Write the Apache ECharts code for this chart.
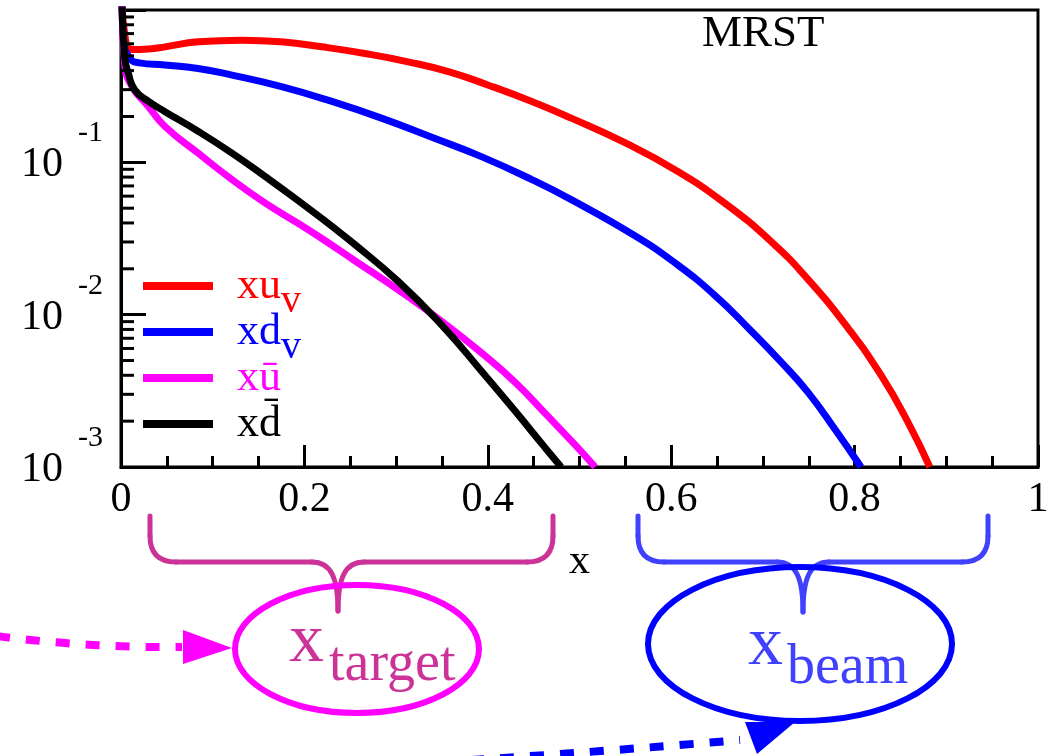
<!DOCTYPE html>
<html>
<head>
<meta charset="utf-8">
<script src="https://cdn.jsdelivr.net/npm/echarts@6/dist/echarts.min.js"></script>
<style>
  html, body { margin: 0; padding: 0; background: #fff; }
  #chart { width: 1053px; height: 756px; }
</style>
</head>
<body>
<div id="chart"></div>
<script>
const FONT = "'Liberation Serif', 'DejaVu Serif', 'Times New Roman', serif";

// MRST parton distributions x*f(x) versus momentum fraction x
const xuvX = [0.001, 0.004, 0.012, 0.030, 0.048, 0.084, 0.132, 0.175, 0.219, 0.266, 0.313, 0.357, 0.400, 0.448, 0.491, 0.549, 0.604, 0.658, 0.709, 0.749, 0.793, 0.829, 0.858, 0.882];
const xuvY = [1.2, 0.70, 0.55, 0.555, 0.573, 0.618, 0.634, 0.618, 0.573, 0.518, 0.457, 0.394, 0.322, 0.251, 0.195, 0.135, 0.0895, 0.0542, 0.0302, 0.0171, 0.00813, 0.00399, 0.00198, 0.00100];

const xdvX = [0.001, 0.003, 0.010, 0.020, 0.048, 0.084, 0.121, 0.175, 0.230, 0.284, 0.339, 0.393, 0.448, 0.491, 0.560, 0.604, 0.647, 0.687, 0.720, 0.749, 0.778, 0.807];
const xdvY = [1.2, 0.62, 0.48, 0.45, 0.436, 0.413, 0.374, 0.314, 0.251, 0.195, 0.146, 0.109, 0.0771, 0.0569, 0.0331, 0.0219, 0.0135, 0.00785, 0.00488, 0.0031, 0.00179, 0.00100];

const xubarX = [0.001, 0.004, 0.012, 0.030, 0.048, 0.084, 0.121, 0.157, 0.193, 0.219, 0.255, 0.302, 0.350, 0.393, 0.430, 0.466, 0.495, 0.517];
const xubarY = [1.2, 0.446, 0.314, 0.232, 0.172, 0.115, 0.0771, 0.0542, 0.0398, 0.0316, 0.0226, 0.0146, 0.00902, 0.00562, 0.00359, 0.00214, 0.00140, 0.00100];

const xdbarX = [0.001, 0.004, 0.008, 0.015, 0.030, 0.048, 0.084, 0.121, 0.157, 0.193, 0.230, 0.251, 0.302, 0.350, 0.393, 0.430, 0.462, 0.480];
const xdbarY = [1.2, 0.493, 0.384, 0.299, 0.251, 0.215, 0.160, 0.115, 0.0809, 0.0562, 0.0380, 0.0302, 0.0166, 0.00851, 0.00427, 0.00232, 0.00135, 0.00100];

const seriesNames = ['xu_v', 'xd_v', 'x\u016B', 'xd\u0304'];
const seriesColors = ['#ff0000', '#0000ff', '#ff00ff', '#000000'];
const legendLabels = ['{m|xu}{s|v}', '{m|xd}{s|v}', '{m|x\u016B}{s| }', '{m|xd\u0304}{s| }'];

// log-axis minor ticks (2..9 per decade)
const yMinorTicks = [0.002, 0.003, 0.004, 0.005, 0.006, 0.007, 0.008, 0.009,
                     0.02, 0.03, 0.04, 0.05, 0.06, 0.07, 0.08, 0.09,
                     0.2, 0.3, 0.4, 0.5, 0.6, 0.7, 0.8, 0.9];

const pairs = (xs, ys) => xs.map((x, i) => [x, ys[i]]);
const curves = [pairs(xuvX, xuvY), pairs(xdvX, xdvY), pairs(xubarX, xubarY), pairs(xdbarX, xdbarY)];

// curly brace built from straight and curved strokes
function brace(x1, x2, xc, yTop, yBar, yTip, color) {
  const r = 26;
  const style = { fill: 'none', stroke: color, lineWidth: 5, lineCap: 'round' };
  const seg = (type, shape) => ({ type, silent: true, z: 20, shape, style });
  return [
    seg('line', { x1: x1, y1: yTop, x2: x1, y2: yBar - r }),
    seg('bezierCurve', { x1: x1, y1: yBar - r, cpx1: x1, cpy1: yBar, x2: x1 + r, y2: yBar }),
    seg('line', { x1: x1 + r, y1: yBar, x2: xc - 26, y2: yBar }),
    seg('bezierCurve', { x1: xc - 26, y1: yBar, cpx1: xc - 7, cpy1: yBar, cpx2: xc, cpy2: yBar + 16, x2: xc, y2: yTip }),
    seg('bezierCurve', { x1: xc + 26, y1: yBar, cpx1: xc + 7, cpy1: yBar, cpx2: xc, cpy2: yBar + 16, x2: xc, y2: yTip }),
    seg('line', { x1: xc + 26, y1: yBar, x2: x2 - r, y2: yBar }),
    seg('bezierCurve', { x1: x2 - r, y1: yBar, cpx1: x2, cpy1: yBar, x2: x2, y2: yBar - r }),
    seg('line', { x1: x2, y1: yBar - r, x2: x2, y2: yTop })
  ];
}

const chart = echarts.init(document.getElementById('chart'), null, { renderer: 'canvas' });

const lineSeries = curves.map((d, i) => ({
  name: seriesNames[i],
  type: 'line',
  data: d,
  smooth: 0.5,
  showSymbol: false,
  symbol: 'none',
  clip: true,
  color: seriesColors[i],
  lineStyle: { color: seriesColors[i], width: 7 },
  emphasis: { disabled: true },
  z: 2 + i
}));

const option = {
  animation: false,
  backgroundColor: '#ffffff',
  title: {
    text: 'MRST',
    left: 702,
    top: 12,
    padding: 0,
    textStyle: { fontFamily: FONT, fontSize: 45, fontWeight: 'normal', color: '#000' }
  },
  grid: {
    left: 121, right: 15, top: 10, bottom: 289,
    containLabel: false,
    outerBoundsMode: 'none',
    show: true,
    borderColor: '#000',
    borderWidth: 3,
    backgroundColor: 'transparent'
  },
  legend: {
    orient: 'vertical',
    left: 143,
    top: 251,
    padding: 0,
    itemGap: -24,
    icon: 'rect',
    itemWidth: 70,
    itemHeight: 8,
    selectedMode: false,
    data: seriesNames.map((n, i) => ({ name: n, textStyle: { color: seriesColors[i] } })),
    formatter: name => legendLabels[seriesNames.indexOf(name)],
    textStyle: {
      fontFamily: FONT,
      rich: {
        m: { fontFamily: FONT, fontSize: 44, lineHeight: 30, padding: [0, 0, 0, 19] },
        s: { fontFamily: FONT, fontSize: 40, lineHeight: 30, padding: [30, 0, 0, 0] }
      }
    }
  },
  xAxis: {
    type: 'value',
    min: 0, max: 1, interval: 0.2,
    name: 'x',
    nameLocation: 'middle',
    nameGap: 74,
    nameTextStyle: { fontFamily: FONT, fontSize: 42, color: '#000' },
    axisLine: { show: true, onZero: false, lineStyle: { color: '#000', width: 3 } },
    axisTick: { show: true, inside: true, length: 22, lineStyle: { color: '#000', width: 3 } },
    minorTick: { show: true, splitNumber: 4, length: 11, lineStyle: { color: '#000', width: 3 } },
    splitLine: { show: false },
    minorSplitLine: { show: false },
    axisLabel: {
      fontFamily: FONT, fontSize: 42, color: '#000', margin: 12,
      formatter: v => (v === 0 ? '0' : v === 1 ? '1' : v.toFixed(1))
    }
  },
  yAxis: {
    type: 'log',
    logBase: 10,
    min: 0.001, max: 1,
    axisLine: { show: true, onZero: false, lineStyle: { color: '#000', width: 3 } },
    axisTick: { show: true, inside: true, length: 25, lineStyle: { color: '#000', width: 3 } },
    splitLine: { show: false },
    axisLabel: {
      margin: 18,
      color: '#000',
      fontFamily: FONT,
      formatter: v => {
        const e = Math.round(Math.log10(v));
        return e >= 0 ? '' : '{b|10}{s|' + e + '}';
      },
      rich: {
        b: { fontFamily: FONT, fontSize: 42, lineHeight: 44, color: '#000', padding: [6, 0, 0, 0] },
        s: { fontFamily: FONT, fontSize: 30, lineHeight: 44, color: '#000', padding: [0, 0, 58, 15] }
      }
    }
  },
  series: lineSeries.concat([{
    name: 'yMinor',
    type: 'custom',
    silent: true,
    clip: false,
    data: yMinorTicks.map(v => [0, v]),
    encode: { x: 0, y: 1 },
    z: 10,
    renderItem: (params, api) => {
      const p = api.coord([0, api.value(1)]);
      return {
        type: 'line',
        shape: { x1: p[0], y1: p[1], x2: p[0] + 13, y2: p[1] },
        style: { stroke: '#000', lineWidth: 3 }
      };
    }
  }]),
  graphic: [].concat(
    brace(150, 553, 338, 516, 562, 611, '#cc3399'),
    brace(638, 988, 803, 516, 562, 612, '#4040ff'),
    [
      { type: 'ellipse', silent: true, z: 20, shape: { cx: 357, cy: 649, rx: 122, ry: 64 },
        style: { fill: 'none', stroke: '#ff00ff', lineWidth: 6 } },
      { type: 'ellipse', silent: true, z: 20, shape: { cx: 800, cy: 644, rx: 152, ry: 77 },
        style: { fill: 'none', stroke: '#0000ff', lineWidth: 6 } },
      { type: 'text', silent: true, z: 21, x: 289, y: 643,
        style: { text: 'x', fontFamily: FONT, fontSize: 70, fill: '#cc3399', align: 'left', verticalAlign: 'middle' } },
      { type: 'text', silent: true, z: 21, x: 329, y: 665,
        style: { text: 'target', fontFamily: FONT, fontSize: 56, fill: '#cc3399', align: 'left', verticalAlign: 'middle' } },
      { type: 'text', silent: true, z: 21, x: 748, y: 646,
        style: { text: 'x', fontFamily: FONT, fontSize: 70, fill: '#4040ff', align: 'left', verticalAlign: 'middle' } },
      { type: 'text', silent: true, z: 21, x: 787, y: 668,
        style: { text: 'beam', fontFamily: FONT, fontSize: 56, fill: '#4040ff', align: 'left', verticalAlign: 'middle' } },
      // dashed arrows pointing at the two ellipses
      { type: 'bezierCurve', silent: true, z: 20,
        shape: { x1: -4, y1: 636, cpx1: 90, cpy1: 648, x2: 182, y2: 647 },
        style: { fill: 'none', stroke: '#ff00ff', lineWidth: 8, lineDash: [14, 16] } },
      { type: 'polygon', silent: true, z: 20, shape: { points: [[183, 630], [232, 648], [183, 664]] },
        style: { fill: '#ff00ff' } },
      { type: 'bezierCurve', silent: true, z: 20,
        shape: { x1: 440, y1: 762, cpx1: 600, cpy1: 752, x2: 740, y2: 740 },
        style: { fill: 'none', stroke: '#0000ff', lineWidth: 8, lineDash: [14, 16] } },
      { type: 'polygon', silent: true, z: 20, shape: { points: [[745, 722], [795, 722], [757, 754]] },
        style: { fill: '#0000ff' } }
    ]
  )
};

chart.setOption(option);
</script>
</body>
</html>
